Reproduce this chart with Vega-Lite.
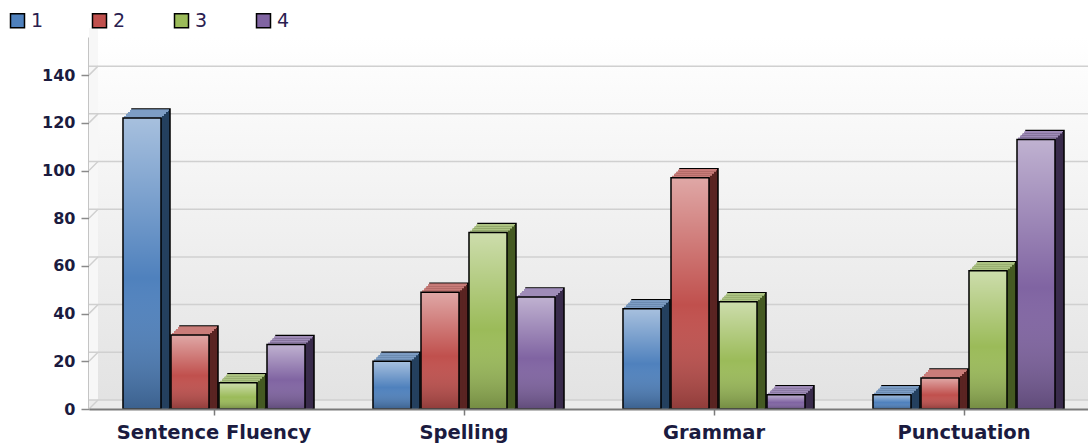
{
  "$schema": "https://vega.github.io/schema/vega-lite/v6.json",
  "autosize": "none",
  "width": 1000,
  "height": 372,
  "padding": {"left": 89, "top": 37, "right": 0, "bottom": 37},
  "background": "white",
  "datasets": {
    "scores": [
      {"c": "Sentence Fluency", "s": "1", "v": 122},
      {"c": "Sentence Fluency", "s": "2", "v": 31},
      {"c": "Sentence Fluency", "s": "3", "v": 11},
      {"c": "Sentence Fluency", "s": "4", "v": 27},
      {"c": "Spelling", "s": "1", "v": 20},
      {"c": "Spelling", "s": "2", "v": 49},
      {"c": "Spelling", "s": "3", "v": 74},
      {"c": "Spelling", "s": "4", "v": 47},
      {"c": "Grammar", "s": "1", "v": 42},
      {"c": "Grammar", "s": "2", "v": 97},
      {"c": "Grammar", "s": "3", "v": 45},
      {"c": "Grammar", "s": "4", "v": 6},
      {"c": "Punctuation", "s": "1", "v": 6},
      {"c": "Punctuation", "s": "2", "v": 13},
      {"c": "Punctuation", "s": "3", "v": 58},
      {"c": "Punctuation", "s": "4", "v": 113}
    ],
    "grid": [
      {"g": 0}, {"g": 20}, {"g": 40}, {"g": 60}, {"g": 80}, {"g": 100}, {"g": 120}, {"g": 140}
    ]
  },
  "data": {"name": "scores"},
  "resolve": {"scale": {"xOffset": "independent"}},
  "config": {
    "view": {
      "stroke": null,
      "fill": {
        "gradient": "linear", "x1": 0, "y1": 0, "x2": 0, "y2": 1,
        "stops": [
          {"offset": 0, "color": "#ffffff"},
          {"offset": 1, "color": "#e2e2e2"}
        ]
      }
    },
    "axisY": {
      "grid": false, "tickCount": 8,
      "domainColor": "#8a8a8a", "domainWidth": 2,
      "tickColor": "#8a8a8a", "tickWidth": 1.5, "tickSize": 8,
      "labelPadding": 6, "labelFont": "DejaVu Sans", "labelFontWeight": "bold",
      "labelFontSize": 16, "labelColor": "#1b1b3f"
    },
    "axisX": {
      "grid": false,
      "domainColor": "#7a7a7a", "domainWidth": 2,
      "tickColor": "#7a7a7a", "tickWidth": 1.5, "tickSize": 6,
      "labelPadding": 8, "labelFont": "DejaVu Sans", "labelFontWeight": "bold",
      "labelFontSize": 19.5, "labelColor": "#1b1b3f", "labelAngle": 0, "labelLimit": 500
    }
  },
  "layer": [
    {
      "data": {"name": "grid"},
      "mark": {"type": "rect", "fill": "#f7f7f7", "x2Offset": 9, "y2Offset": -9},
      "encoding": {
        "x": {"datum": "Sentence Fluency", "type": "nominal", "bandPosition": 0},
        "x2": {"datum": "Sentence Fluency", "bandPosition": 0},
        "y": {"datum": 0, "type": "quantitative", "scale": {"domain": [0, 156], "nice": false}, "title": null},
        "y2": {"datum": 156}
      }
    },
    {
      "data": {"name": "grid"},
      "mark": {"type": "rect", "fill": "#ececec", "y2Offset": -9},
      "encoding": {
        "y": {"datum": 0, "type": "quantitative", "title": null},
        "y2": {"datum": 0}
      }
    },
    {
      "data": {"name": "grid"},
      "mark": {"type": "rule", "color": "#d0d0d0", "strokeWidth": 1.5, "xOffset": 9, "yOffset": -9},
      "encoding": {
        "y": {"field": "g", "type": "quantitative", "title": null}
      }
    },
    {
      "data": {"name": "grid"},
      "mark": {"type": "rule", "color": "#d0d0d0", "strokeWidth": 1.5, "x2Offset": 9, "y2Offset": -9},
      "encoding": {
        "x": {"datum": "Sentence Fluency", "type": "nominal", "bandPosition": 0},
        "x2": {"datum": "Sentence Fluency", "bandPosition": 0},
        "y": {"field": "g", "type": "quantitative", "title": null},
        "y2": {"field": "g"}
      }
    },
    {
      "mark": {"type": "bar", "stroke": "black", "strokeWidth": 1.5, "yOffset": -9, "y2Offset": -9},
      "encoding": {
        "x": {"field": "c", "type": "nominal", "sort": ["Sentence Fluency", "Spelling", "Grammar", "Punctuation"], "scale": {"paddingInner": 0, "paddingOuter": 0}, "title": null},
        "xOffset": {"field": "s", "type": "nominal", "scale": {"range": [9, 259], "paddingInner": 0.208, "paddingOuter": 0.708}},
        "y": {"field": "v", "type": "quantitative", "stack": null, "title": null},
        "fill": {"field": "s", "type": "nominal", "scale": {"range": ["#24405f", "#5a2422", "#455a23", "#3a2c4c"]}, "legend": null}
      }
    },
    {
      "mark": {"type": "bar", "yOffset": -7.5, "y2Offset": -7.5},
      "encoding": {
        "x": {"field": "c", "type": "nominal", "sort": ["Sentence Fluency", "Spelling", "Grammar", "Punctuation"], "title": null},
        "xOffset": {"field": "s", "type": "nominal", "scale": {"range": [7.5, 257.5], "paddingInner": 0.208, "paddingOuter": 0.708}},
        "y": {"field": "v", "type": "quantitative", "stack": null, "title": null},
        "fill": {"field": "s", "type": "nominal", "legend": null}
      }
    },
    {
      "mark": {"type": "bar", "yOffset": -6, "y2Offset": -6},
      "encoding": {
        "x": {"field": "c", "type": "nominal", "sort": ["Sentence Fluency", "Spelling", "Grammar", "Punctuation"], "title": null},
        "xOffset": {"field": "s", "type": "nominal", "scale": {"range": [6, 256], "paddingInner": 0.208, "paddingOuter": 0.708}},
        "y": {"field": "v", "type": "quantitative", "stack": null, "title": null},
        "fill": {"field": "s", "type": "nominal", "legend": null}
      }
    },
    {
      "mark": {"type": "bar", "yOffset": -4.5, "y2Offset": -4.5},
      "encoding": {
        "x": {"field": "c", "type": "nominal", "sort": ["Sentence Fluency", "Spelling", "Grammar", "Punctuation"], "title": null},
        "xOffset": {"field": "s", "type": "nominal", "scale": {"range": [4.5, 254.5], "paddingInner": 0.208, "paddingOuter": 0.708}},
        "y": {"field": "v", "type": "quantitative", "stack": null, "title": null},
        "fill": {"field": "s", "type": "nominal", "legend": null}
      }
    },
    {
      "mark": {"type": "bar", "yOffset": -3, "y2Offset": -3},
      "encoding": {
        "x": {"field": "c", "type": "nominal", "sort": ["Sentence Fluency", "Spelling", "Grammar", "Punctuation"], "title": null},
        "xOffset": {"field": "s", "type": "nominal", "scale": {"range": [3, 253], "paddingInner": 0.208, "paddingOuter": 0.708}},
        "y": {"field": "v", "type": "quantitative", "stack": null, "title": null},
        "fill": {"field": "s", "type": "nominal", "legend": null}
      }
    },
    {
      "mark": {"type": "bar", "yOffset": -1.5, "y2Offset": -1.5},
      "encoding": {
        "x": {"field": "c", "type": "nominal", "sort": ["Sentence Fluency", "Spelling", "Grammar", "Punctuation"], "title": null},
        "xOffset": {"field": "s", "type": "nominal", "scale": {"range": [1.5, 251.5], "paddingInner": 0.208, "paddingOuter": 0.708}},
        "y": {"field": "v", "type": "quantitative", "stack": null, "title": null},
        "fill": {"field": "s", "type": "nominal", "legend": null}
      }
    },
    {
      "mark": {"type": "bar", "fill": "transparent", "strokeWidth": 2, "yOffset": -1, "y2Offset": -1},
      "encoding": {
        "x": {"field": "c", "type": "nominal", "sort": ["Sentence Fluency", "Spelling", "Grammar", "Punctuation"], "title": null},
        "xOffset": {"field": "s", "type": "nominal", "scale": {"range": [1, 251], "paddingInner": 0.208, "paddingOuter": 0.708}},
        "y": {"field": "v", "type": "quantitative", "stack": null, "title": null},
        "y2": {"field": "v"},
        "stroke": {"field": "s", "type": "nominal", "scale": {"range": ["#7d9dc4", "#c97c79", "#adc484", "#9f8cb8"]}, "legend": null}
      }
    },
    {
      "mark": {"type": "bar", "fill": "transparent", "strokeWidth": 2, "yOffset": -3, "y2Offset": -3},
      "encoding": {
        "x": {"field": "c", "type": "nominal", "sort": ["Sentence Fluency", "Spelling", "Grammar", "Punctuation"], "title": null},
        "xOffset": {"field": "s", "type": "nominal", "scale": {"range": [3, 253], "paddingInner": 0.208, "paddingOuter": 0.708}},
        "y": {"field": "v", "type": "quantitative", "stack": null, "title": null},
        "y2": {"field": "v"},
        "stroke": {"field": "s", "type": "nominal", "legend": null}
      }
    },
    {
      "mark": {"type": "bar", "fill": "transparent", "strokeWidth": 2, "yOffset": -5, "y2Offset": -5},
      "encoding": {
        "x": {"field": "c", "type": "nominal", "sort": ["Sentence Fluency", "Spelling", "Grammar", "Punctuation"], "title": null},
        "xOffset": {"field": "s", "type": "nominal", "scale": {"range": [5, 255], "paddingInner": 0.208, "paddingOuter": 0.708}},
        "y": {"field": "v", "type": "quantitative", "stack": null, "title": null},
        "y2": {"field": "v"},
        "stroke": {"field": "s", "type": "nominal", "legend": null}
      }
    },
    {
      "mark": {"type": "bar", "fill": "transparent", "strokeWidth": 2, "yOffset": -7, "y2Offset": -7},
      "encoding": {
        "x": {"field": "c", "type": "nominal", "sort": ["Sentence Fluency", "Spelling", "Grammar", "Punctuation"], "title": null},
        "xOffset": {"field": "s", "type": "nominal", "scale": {"range": [7, 257], "paddingInner": 0.208, "paddingOuter": 0.708}},
        "y": {"field": "v", "type": "quantitative", "stack": null, "title": null},
        "y2": {"field": "v"},
        "stroke": {"field": "s", "type": "nominal", "legend": null}
      }
    },
    {
      "mark": {"type": "bar", "fill": "transparent", "strokeWidth": 1, "yOffset": -8, "y2Offset": -8},
      "encoding": {
        "x": {"field": "c", "type": "nominal", "sort": ["Sentence Fluency", "Spelling", "Grammar", "Punctuation"], "title": null},
        "xOffset": {"field": "s", "type": "nominal", "scale": {"range": [8, 258], "paddingInner": 0.208, "paddingOuter": 0.708}},
        "y": {"field": "v", "type": "quantitative", "stack": null, "title": null},
        "y2": {"field": "v"},
        "stroke": {"field": "s", "type": "nominal", "legend": null}
      }
    },
    {
      "mark": {"type": "bar"},
      "encoding": {
        "x": {"field": "c", "type": "nominal", "sort": ["Sentence Fluency", "Spelling", "Grammar", "Punctuation"], "title": null},
        "xOffset": {"field": "s", "type": "nominal", "scale": {"range": [0, 250], "paddingInner": 0.208, "paddingOuter": 0.708}},
        "y": {"field": "v", "type": "quantitative", "stack": null, "title": null},
        "color": {
          "field": "s", "type": "nominal",
          "scale": {"range": ["#4f81bd", "#c0504d", "#9bbb59", "#8064a2"]},
          "legend": {
            "title": null, "orient": "none", "legendX": -81, "legendY": -26,
            "direction": "horizontal", "columns": 4, "columnPadding": 45, "padding": 0,
            "symbolType": "square", "symbolSize": 196, "symbolStrokeColor": "black", "symbolStrokeWidth": 1.5, "symbolOpacity": 1,
            "labelFont": "DejaVu Sans", "labelFontSize": 19, "labelColor": "#2a2050", "labelOffset": 4
          }
        }
      }
    },
    {
      "mark": {
        "type": "bar", "stroke": "black", "strokeWidth": 1.5,
        "fill": {
          "gradient": "linear", "x1": 0, "y1": 0, "x2": 0, "y2": 1,
          "stops": [
            {"offset": 0, "color": "rgba(255,255,255,0.5)"},
            {"offset": 0.55, "color": "rgba(255,255,255,0)"},
            {"offset": 1, "color": "rgba(0,0,0,0.25)"}
          ]
        }
      },
      "encoding": {
        "x": {"field": "c", "type": "nominal", "sort": ["Sentence Fluency", "Spelling", "Grammar", "Punctuation"], "title": null},
        "xOffset": {"field": "s", "type": "nominal", "scale": {"range": [0, 250], "paddingInner": 0.208, "paddingOuter": 0.708}},
        "y": {"field": "v", "type": "quantitative", "stack": null, "title": null}
      }
    }
  ]
}
